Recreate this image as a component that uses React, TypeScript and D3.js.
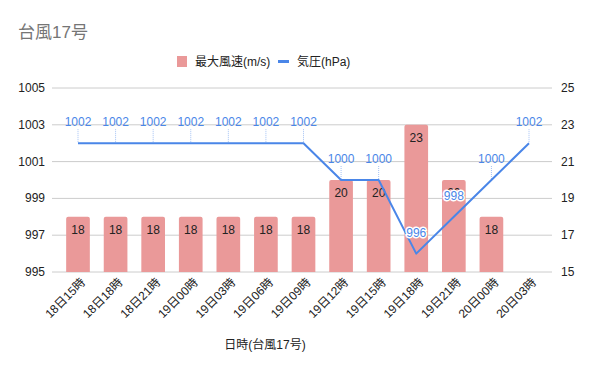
import * as d3 from 'd3';

const categories = ['18日15時', '18日18時', '18日21時', '19日00時', '19日03時', '19日06時', '19日09時', '19日12時', '19日15時', '19日18時', '19日21時', '20日00時', '20日03時'];
const windSpeed: (number | null)[] = [18, 18, 18, 18, 18, 18, 18, 20, 20, 23, 20, 18, null];
const pressure = [1002, 1002, 1002, 1002, 1002, 1002, 1002, 1000, 1000, 996, 998, 1000, 1002];
const leftTicks = [995, 997, 999, 1001, 1003, 1005];
const rightTicks = [15, 17, 19, 21, 23, 25];

const FONT = "Arial, 'Liberation Sans', 'Noto Sans CJK JP', sans-serif";
const BAR = '#ea9999';
const LINE = '#4a86e8';

export default function App() {
  const W = 600, H = 371;
  const gridL = 52, gridR = 552;
  const top = 88, bottom = 272;

  const x = d3.scalePoint<string>().domain(categories).range([78, 529]);
  const step = x.step();
  const barW = step * 0.63;
  const yL = d3.scaleLinear().domain([995, 1005]).range([bottom, top]);
  const yR = d3.scaleLinear().domain([15, 25]).range([bottom, top]);

  const line = d3.line<number>()
    .x((_, i) => x(categories[i])!)
    .y((d) => yL(d));

  // labels sitting inside bars get a white halo and no leader
  const inside = (i: number) => {
    const w = windSpeed[i];
    return w != null && yR(w) < yL(pressure[i]);
  };

  return (
    <svg width={W} height={H} style={{ position: 'absolute', left: 0, top: 0, background: '#fff' }} fontFamily={FONT}>
      <rect width={W} height={H} fill="#fff" />
      <text x={18} y={38} fontSize={17} fill="#757575">台風17号</text>

      {/* legend */}
      <rect x={177} y={56} width={10} height={11} fill={BAR} />
      <text x={195} y={65.5} fontSize={12} fill="#222">最大風速(m/s)</text>
      <line x1={278} x2={289} y1={61.5} y2={61.5} stroke={LINE} strokeWidth={3} />
      <text x={297} y={65.5} fontSize={12} fill="#222">気圧(hPa)</text>

      {/* grid */}
      {leftTicks.map((t) => (
        <line key={t} x1={gridL} x2={gridR} y1={yL(t)} y2={yL(t)} stroke="#cccccc" strokeWidth={1} />
      ))}
      {leftTicks.map((t) => (
        <text key={'l' + t} x={45} y={yL(t) + 4} fontSize={12} fill="#222" textAnchor="end">{t}</text>
      ))}
      {rightTicks.map((t) => (
        <text key={'r' + t} x={561} y={yR(t) + 4} fontSize={12} fill="#222">{t}</text>
      ))}

      {/* bars */}
      {windSpeed.map((v, i) => v == null ? null : (
        <path key={'b' + i}
          d={`M${x(categories[i])! - barW / 2},${bottom} V${yR(v) + 2} q0,-2 2,-2 H${x(categories[i])! + barW / 2 - 2} q2,0 2,2 V${bottom} Z`}
          fill={BAR} />
      ))}
      {windSpeed.map((v, i) => v == null ? null : (
        <text key={'bl' + i} x={x(categories[i])} y={yR(v) + 17} fontSize={12} fill="#222" textAnchor="middle">{v}</text>
      ))}

      {/* leaders */}
      {pressure.map((p, i) => inside(i) ? null : (
        <line key={'ld' + i} x1={x(categories[i])} x2={x(categories[i])} y1={yL(p) - 14} y2={yL(p)}
          stroke="#a4c2f4" strokeWidth={1} strokeDasharray="1,1" />
      ))}

      <path d={line(pressure) ?? ''} fill="none" stroke={LINE} strokeWidth={2} strokeLinejoin="round" />

      {pressure.map((p, i) => (
        <text key={'pl' + i} x={x(categories[i])} y={yL(p) - 17} fontSize={12} fill={LINE} textAnchor="middle"
          stroke={inside(i) ? '#fff' : 'none'} strokeWidth={inside(i) ? 3 : 0} paintOrder="stroke">{p}</text>
      ))}

      {/* x labels */}
      {categories.map((c) => (
        <text key={'x' + c} transform={`translate(${x(c)! + 8},${283}) rotate(-45)`} fontSize={12} fill="#222" textAnchor="end">{c}</text>
      ))}
      <text x={265} y={349} fontSize={12} fill="#222" textAnchor="middle">日時(台風17号)</text>
    </svg>
  );
}
